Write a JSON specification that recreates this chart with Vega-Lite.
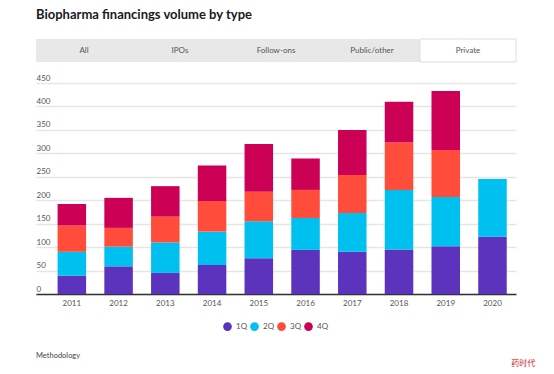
{
  "$schema": "https://vega.github.io/schema/vega-lite/v6.json",
  "padding": {"left": 36, "top": 8, "right": 0, "bottom": 0},
  "background": "white",
  "title": {"text": "Biopharma financings volume by type", "anchor": "start", "fontSize": 13, "fontWeight": "bold", "font": "Lato", "color": "#1a1a1a", "offset": 17},
  "config": {
    "font": "Lato",
    "view": {"stroke": null},
    "legend": {"layout": {"bottom": {"anchor": "middle"}}}
  },
  "resolve": {"legend": {"color": "independent"}, "scale": {"color": "independent"}},
  "bounds": "flush",
  "spacing": 21,
  "vconcat": [
    {
      "width": 480,
      "height": 23,
      "data": {"values": [
        {"tab": "All", "selected": "no"},
        {"tab": "IPOs", "selected": "no"},
        {"tab": "Follow-ons", "selected": "no"},
        {"tab": "Public/other", "selected": "no"},
        {"tab": "Private", "selected": "yes"}
      ]},
      "encoding": {
        "x": {"field": "tab", "type": "nominal", "sort": ["All", "IPOs", "Follow-ons", "Public/other", "Private"], "scale": {"paddingInner": 0, "paddingOuter": 0}, "axis": null}
      },
      "layer": [
        {
          "transform": [{"filter": "datum.selected == 'no'"}],
          "mark": {"type": "bar", "color": "#e8e8e8"}
        },
        {
          "transform": [{"filter": "datum.selected == 'yes'"}],
          "mark": {"type": "bar", "color": "#ffffff", "stroke": "#dddddd", "strokeWidth": 1}
        },
        {
          "mark": {"type": "text", "fontSize": 8, "color": "#555555"},
          "encoding": {"text": {"field": "tab"}}
        }
      ]
    },
    {
      "width": 480,
      "height": 211,
      "data": {"values": [
        {"year": "2011", "q": "1Q", "v": 39}, {"year": "2011", "q": "2Q", "v": 51}, {"year": "2011", "q": "3Q", "v": 56}, {"year": "2011", "q": "4Q", "v": 46},
        {"year": "2012", "q": "1Q", "v": 59}, {"year": "2012", "q": "2Q", "v": 42}, {"year": "2012", "q": "3Q", "v": 40}, {"year": "2012", "q": "4Q", "v": 64},
        {"year": "2013", "q": "1Q", "v": 45}, {"year": "2013", "q": "2Q", "v": 65}, {"year": "2013", "q": "3Q", "v": 55}, {"year": "2013", "q": "4Q", "v": 65},
        {"year": "2014", "q": "1Q", "v": 62}, {"year": "2014", "q": "2Q", "v": 71}, {"year": "2014", "q": "3Q", "v": 65}, {"year": "2014", "q": "4Q", "v": 76},
        {"year": "2015", "q": "1Q", "v": 76}, {"year": "2015", "q": "2Q", "v": 79}, {"year": "2015", "q": "3Q", "v": 63}, {"year": "2015", "q": "4Q", "v": 102},
        {"year": "2016", "q": "1Q", "v": 94}, {"year": "2016", "q": "2Q", "v": 68}, {"year": "2016", "q": "3Q", "v": 60}, {"year": "2016", "q": "4Q", "v": 67},
        {"year": "2017", "q": "1Q", "v": 90}, {"year": "2017", "q": "2Q", "v": 83}, {"year": "2017", "q": "3Q", "v": 81}, {"year": "2017", "q": "4Q", "v": 96},
        {"year": "2018", "q": "1Q", "v": 95}, {"year": "2018", "q": "2Q", "v": 127}, {"year": "2018", "q": "3Q", "v": 101}, {"year": "2018", "q": "4Q", "v": 87},
        {"year": "2019", "q": "1Q", "v": 102}, {"year": "2019", "q": "2Q", "v": 105}, {"year": "2019", "q": "3Q", "v": 100}, {"year": "2019", "q": "4Q", "v": 126},
        {"year": "2020", "q": "1Q", "v": 122}, {"year": "2020", "q": "2Q", "v": 123}
      ]},
      "mark": {"type": "bar"},
      "encoding": {
        "x": {"field": "year", "type": "ordinal", "scale": {"paddingInner": 0.39, "paddingOuter": 0.33, "align": 0.7},
          "axis": {"title": null, "labelAngle": 0, "ticks": false, "labelFontSize": 8, "labelColor": "#555555", "labelPadding": 5, "domainColor": "#333333", "domainWidth": 1.5}},
        "y": {"field": "v", "type": "quantitative", "aggregate": "sum", "stack": "zero", "scale": {"domain": [0, 450], "nice": false},
          "axis": {"title": null, "values": [0, 50, 100, 150, 200, 250, 300, 350, 400, 450], "grid": true, "gridColor": "#e6e6e6", "gridWidth": 1.5, "domain": false, "ticks": false, "labelAlign": "left", "labelBaseline": "bottom", "labelPadding": 0, "labelOffset": -1, "labelFontSize": 8, "labelColor": "#555555"}},
        "color": {"field": "q", "type": "nominal", "scale": {"domain": ["1Q", "2Q", "3Q", "4Q"], "range": ["#5c33bd", "#00c0ef", "#ff4c3b", "#cc0055"]},
          "legend": {"title": null, "orient": "bottom", "direction": "horizontal", "symbolType": "circle", "symbolSize": 75, "symbolStrokeWidth": 0, "labelFontSize": 8, "labelColor": "#555555", "labelOffset": 4, "columnPadding": 2, "offset": 15}},
        "order": {"field": "q", "sort": "ascending"}
      }
    },
    {
      "width": 480,
      "height": 41,
      "data": {"values": [
        {"label": "Methodology", "p": 0, "r": 0, "kind": "note"},
        {"label": "药时代", "p": 1.04, "r": -0.2, "kind": "mark"}
      ]},
      "layer": [
        {
          "transform": [{"filter": "datum.kind == 'note'"}],
          "mark": {"type": "text", "align": "left", "baseline": "middle", "fontSize": 7.5, "color": "#444444"},
          "encoding": {
            "x": {"field": "p", "type": "quantitative", "scale": {"domain": [0, 1]}, "axis": null},
            "y": {"field": "r", "type": "quantitative", "scale": {"domain": [0, 1]}, "axis": null},
            "text": {"field": "label"}
          }
        },
        {
          "transform": [{"filter": "datum.kind == 'mark'"}],
          "mark": {"type": "text", "align": "right", "baseline": "middle", "fontSize": 8, "font": "Noto Sans CJK SC", "color": "#d2232a"},
          "encoding": {
            "x": {"field": "p", "type": "quantitative", "scale": {"domain": [0, 1]}, "axis": null},
            "y": {"field": "r", "type": "quantitative", "scale": {"domain": [0, 1]}, "axis": null},
            "text": {"field": "label"}
          }
        }
      ]
    }
  ]
}
